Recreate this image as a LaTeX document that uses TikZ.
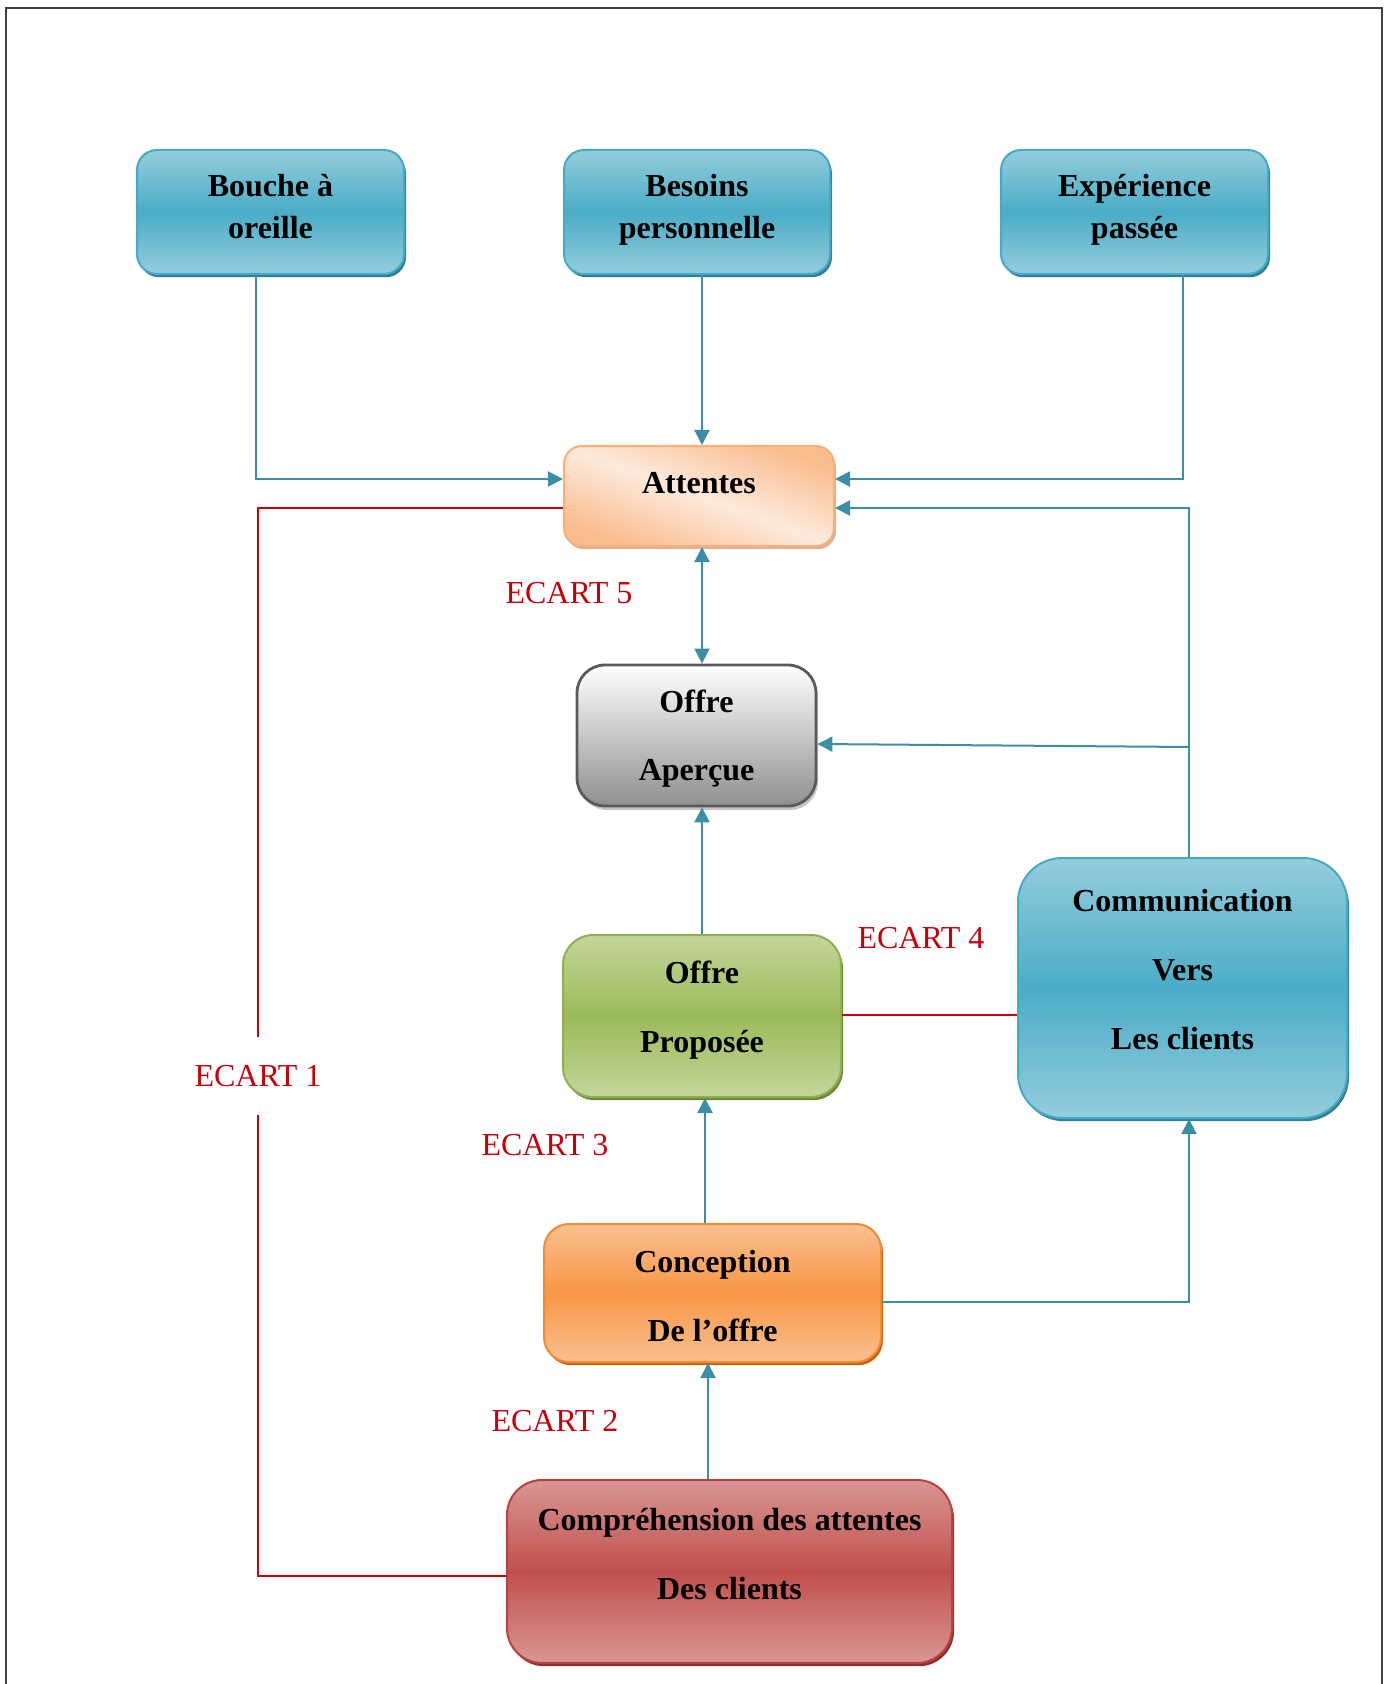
\documentclass[tikz,border=0pt]{standalone}
\usepackage{fontspec}
\setmainfont{Liberation Serif}
\usetikzlibrary{arrows.meta,shadows}

% palette
\definecolor{aquamid}{HTML}{4BACC6}
\definecolor{aqualight}{HTML}{93CDDD}
\definecolor{aquaedge}{HTML}{46AAC5}
\definecolor{aquadark}{HTML}{2F7F95}
\definecolor{peachdeep}{HTML}{F9BC8C}
\definecolor{peachpale}{HTML}{FDEADC}
\definecolor{peachedge}{HTML}{F7B07A}
\definecolor{peachshade}{HTML}{D9B49A}
\definecolor{greymid}{HTML}{8F8F8F}
\definecolor{greyedge}{HTML}{5A5A5A}
\definecolor{greyshade}{HTML}{C4C4C4}
\definecolor{leafmid}{HTML}{9BBB59}
\definecolor{leaflight}{HTML}{C3D69B}
\definecolor{leafedge}{HTML}{8EB04E}
\definecolor{leafdark}{HTML}{6C8A33}
\definecolor{amberm}{HTML}{F79646}
\definecolor{amberlight}{HTML}{FAC090}
\definecolor{amberedge}{HTML}{F38A33}
\definecolor{amberdark}{HTML}{C8620E}
\definecolor{rosemid}{HTML}{C0504D}
\definecolor{roselight}{HTML}{D99694}
\definecolor{roseedge}{HTML}{B8423F}
\definecolor{rosedark}{HTML}{8E302D}
\definecolor{flowblue}{HTML}{3A8EA6}
\definecolor{gapred}{HTML}{C8000A}

% soft diagonal band for the expectations box
\pgfdeclareverticalshading{peachband}{100bp}{%
  color(0bp)=(peachdeep); color(25bp)=(peachdeep); color(50bp)=(peachpale);
  color(75bp)=(peachdeep); color(100bp)=(peachdeep)}

% text block with its own vertical offset inside a box
\newcommand\boxlines[2][0pt]{\raisebox{#1}[\height][\depth]{\begin{tabular}{@{}c@{}}#2\end{tabular}}}

\tikzset{
  card/.style={rounded corners=#1, line width=1pt, inner sep=0pt,
    font=\bfseries\fontsize{16pt}{34.5pt}\selectfont},
  tight/.style={font=\bfseries\fontsize{16pt}{21pt}\selectfont},
  shadeaqua/.style={top color=aqualight, bottom color=aqualight, middle color=aquamid,
    draw=aquaedge, drop shadow={shadow xshift=1pt, shadow yshift=-1.6pt, fill=aquadark, opacity=1}},
  shadepeach/.style={shading=peachband, shading angle=-20, draw=peachedge,
    drop shadow={shadow xshift=1pt, shadow yshift=-1.6pt, fill=peachshade, opacity=1}},
  shadegrey/.style={top color=white, bottom color=greymid, draw=greyedge, line width=1.4pt,
    drop shadow={shadow xshift=1pt, shadow yshift=-2pt, fill=greyshade, opacity=1}},
  shadeleaf/.style={top color=leaflight, bottom color=leaflight, middle color=leafmid,
    draw=leafedge, drop shadow={shadow xshift=1pt, shadow yshift=-1.6pt, fill=leafdark, opacity=1}},
  shadeamber/.style={top color=amberlight, bottom color=amberlight, middle color=amberm,
    draw=amberedge, drop shadow={shadow xshift=1pt, shadow yshift=-1.6pt, fill=amberdark, opacity=1}},
  shaderose/.style={top color=roselight, bottom color=roselight, middle color=rosemid,
    draw=roseedge, drop shadow={shadow xshift=1pt, shadow yshift=-1.6pt, fill=rosedark, opacity=1}},
  flow/.style={draw=flowblue, line width=1pt, -{Triangle[length=7.5pt,width=7.5pt]}},
  flowboth/.style={draw=flowblue, line width=1pt,
    {Triangle[length=7.5pt,width=7.5pt]}-{Triangle[length=7.5pt,width=7.5pt]}},
  gapline/.style={draw=gapred, line width=1pt},
  ecart/.style={text=gapred, font=\fontsize{16pt}{19pt}\selectfont, inner sep=1pt},
  frameline/.style={draw=black!75, line width=1pt}
}

\begin{document}
\begin{tikzpicture}[x=0.5pt,y=-0.5pt]
\useasboundingbox (0,0) rectangle (1391,1684);

% page frame
\draw[frameline] (6,1684) -- (6,8) -- (1382,8) -- (1382,1684);

% sources of expectations
\node[card=10pt, tight, shadeaqua, minimum width=133.5pt, minimum height=62pt]
  (bouche) at (270.5,212) {\boxlines[1.2pt]{Bouche à\\oreille}};
\node[card=10pt, tight, shadeaqua, minimum width=133pt, minimum height=62pt]
  (besoins) at (697,212) {\boxlines[1.2pt]{Besoins\\personnelle}};
\node[card=10pt, tight, shadeaqua, minimum width=133.5pt, minimum height=62pt]
  (experience) at (1134.5,212) {\boxlines[1.2pt]{Expérience\\passée}};

% central chain
\node[card=9pt, tight, shadepeach, minimum width=135pt, minimum height=50pt]
  (attentes) at (699,496) {\boxlines[5.6pt]{Attentes}};
\node[card=14pt, shadegrey, minimum width=119.5pt, minimum height=70.5pt,
  font=\bfseries\fontsize{16pt}{34pt}\selectfont]
  (apercue) at (696.5,735.5) {\boxlines[1.5pt]{Offre\\Aperçue}};
\node[card=15pt, shadeleaf, minimum width=139pt, minimum height=81pt]
  (proposee) at (702,1016) {\boxlines[5.8pt]{Offre\\Proposée}};
\node[card=22pt, shadeaqua, minimum width=164.5pt, minimum height=130pt]
  (communication) at (1182.5,988) {\boxlines[10.5pt]{Communication\\Vers\\Les clients}};
\node[card=12.5pt, shadeamber, minimum width=168.5pt, minimum height=67pt]
  (conception) at (712.5,1293) {\boxlines[-0.3pt]{Conception\\De l’offre}};
\node[card=17.5pt, shaderose, minimum width=222.5pt, minimum height=91.5pt]
  (comprehension) at (729.5,1571.5) {\boxlines[10.2pt]{Compréhension des attentes\\Des clients}};

% gap labels
\node[ecart] (ecart5) at (569,593) {ECART 5};
\node[ecart] (ecart4) at (921,938) {ECART 4};
\node[ecart] (ecart3) at (545,1145) {ECART 3};
\node[ecart] (ecart2) at (555,1421) {ECART 2};
\node[ecart, inner ysep=14pt] (ecart1) at (258,1076) {ECART 1};

% influences on expectations
\draw[flow] (bouche.south -| 256,0) |- (attentes.west |- 0,479);
\draw[flow] (besoins.south -| 702,0) -- (attentes.north -| 702,0);
\draw[flow] (experience.south -| 1183,0) |- (attentes.east |- 0,479);
\draw[flow] (communication.north -| 1189,0) |- (attentes.east |- 0,508);
\coordinate (commtap) at (1189,747);
\draw[flow] (commtap) -- (apercue.east |- 0,744);

% chain links
\draw[flowboth] (attentes.south -| 702,0) -- (apercue.north -| 702,0);
\draw[flow] (proposee.north -| 702,0) -- (apercue.south -| 702,0);
\draw[flow] (conception.north -| 705,0) -- (proposee.south -| 705,0);
\draw[flow] (comprehension.north -| 708,0) -- (conception.south -| 708,0);
\draw[flow] (conception.east |- 0,1302) -| (communication.south -| 1189,0);

% gap lines
\draw[gapline] (proposee.east |- 0,1015) -- (communication.west |- 0,1015);
\draw[gapline] (attentes.west |- 0,508) -| (ecart1.north);
\draw[gapline] (ecart1.south) |- (comprehension.west |- 0,1576);
\end{tikzpicture}
\end{document}
